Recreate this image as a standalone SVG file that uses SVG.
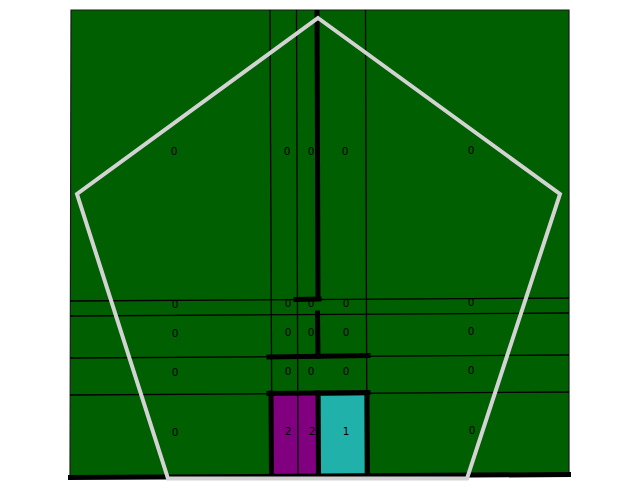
<svg xmlns="http://www.w3.org/2000/svg" width="640" height="500" viewBox="0 0 640 500">
<style>
.thin{stroke:#000;stroke-width:1.3;fill:none}
.thick{stroke:#000;stroke-width:5;fill:none;stroke-linecap:square}
.lbl{font-family:"DejaVu Sans",sans-serif;font-size:10.5px;fill:#000;text-anchor:middle}
.poly{fill:none;stroke:#d3d3d3;stroke-width:4;stroke-linejoin:miter}
</style>
<rect width="640" height="500" fill="#fff"/>
<g id="background">
<polygon points="71,10 569,10 569,474 70,477" fill="#005f00" stroke="#1a1a1a" stroke-width="1.2"/>
</g>
<g id="cells">
<polygon id="cell-purple" points="273,396 316,396 316,474 273,474" fill="#800080"/>
<polygon id="cell-teal" points="320.5,396 364.5,395.5 364.5,473.5 320.5,474" fill="#20b2aa"/>
</g>
<g id="connectors">
<line class="thin" x1="270" y1="10" x2="272" y2="476"/>
<line class="thin" x1="296.5" y1="10" x2="298" y2="476"/>
<line class="thin" x1="365.5" y1="10" x2="367" y2="476"/>
<line class="thin" x1="70" y1="301" x2="569" y2="298"/>
<line class="thin" x1="70" y1="316" x2="569" y2="313"/>
<line class="thin" x1="70" y1="358" x2="569" y2="355"/>
<line class="thin" x1="70" y1="395" x2="569" y2="392"/>
</g>
<g id="labels">
<text class="lbl" x="174" y="155">0</text>
<text class="lbl" x="287" y="155">0</text>
<text class="lbl" x="311" y="155">0</text>
<text class="lbl" x="345" y="155">0</text>
<text class="lbl" x="471" y="154">0</text>
<text class="lbl" x="175" y="308">0</text>
<text class="lbl" x="288" y="307">0</text>
<text class="lbl" x="311" y="307">0</text>
<text class="lbl" x="346" y="307">0</text>
<text class="lbl" x="471" y="306">0</text>
<text class="lbl" x="175" y="337">0</text>
<text class="lbl" x="288" y="336">0</text>
<text class="lbl" x="311" y="336">0</text>
<text class="lbl" x="346" y="336">0</text>
<text class="lbl" x="471" y="335">0</text>
<text class="lbl" x="175" y="376">0</text>
<text class="lbl" x="288" y="375">0</text>
<text class="lbl" x="311" y="375">0</text>
<text class="lbl" x="346" y="375">0</text>
<text class="lbl" x="471" y="374">0</text>
<text class="lbl" x="175" y="436">0</text>
<text class="lbl" x="288" y="435">2</text>
<text class="lbl" x="312" y="435">2</text>
<text class="lbl" x="346" y="435">1</text>
<text class="lbl" x="472" y="434">0</text>
</g>
<g id="walls">
<line stroke="#000" stroke-width="5" x1="317" y1="10" x2="318" y2="301"/>
<line class="thick" x1="296" y1="299.5" x2="319" y2="299"/>
<line class="thick" x1="317.5" y1="313" x2="318" y2="356"/>
<line class="thick" x1="269" y1="357" x2="368" y2="355.5"/>
<line class="thick" x1="269" y1="393.5" x2="368" y2="392.5"/>
<line class="thick" x1="271" y1="393" x2="271.5" y2="476"/>
<line class="thick" x1="367" y1="392.5" x2="367.5" y2="475"/>
<line class="thick" x1="318" y1="393" x2="318.5" y2="476"/>
<line stroke="#000" stroke-width="5" x1="68" y1="477.5" x2="571" y2="474.5"/>
</g>
<g id="pentagon">
<polygon class="poly" points="318,18 560,194 467,478.5 168,478.5 77,194"/>
</g>
</svg>
